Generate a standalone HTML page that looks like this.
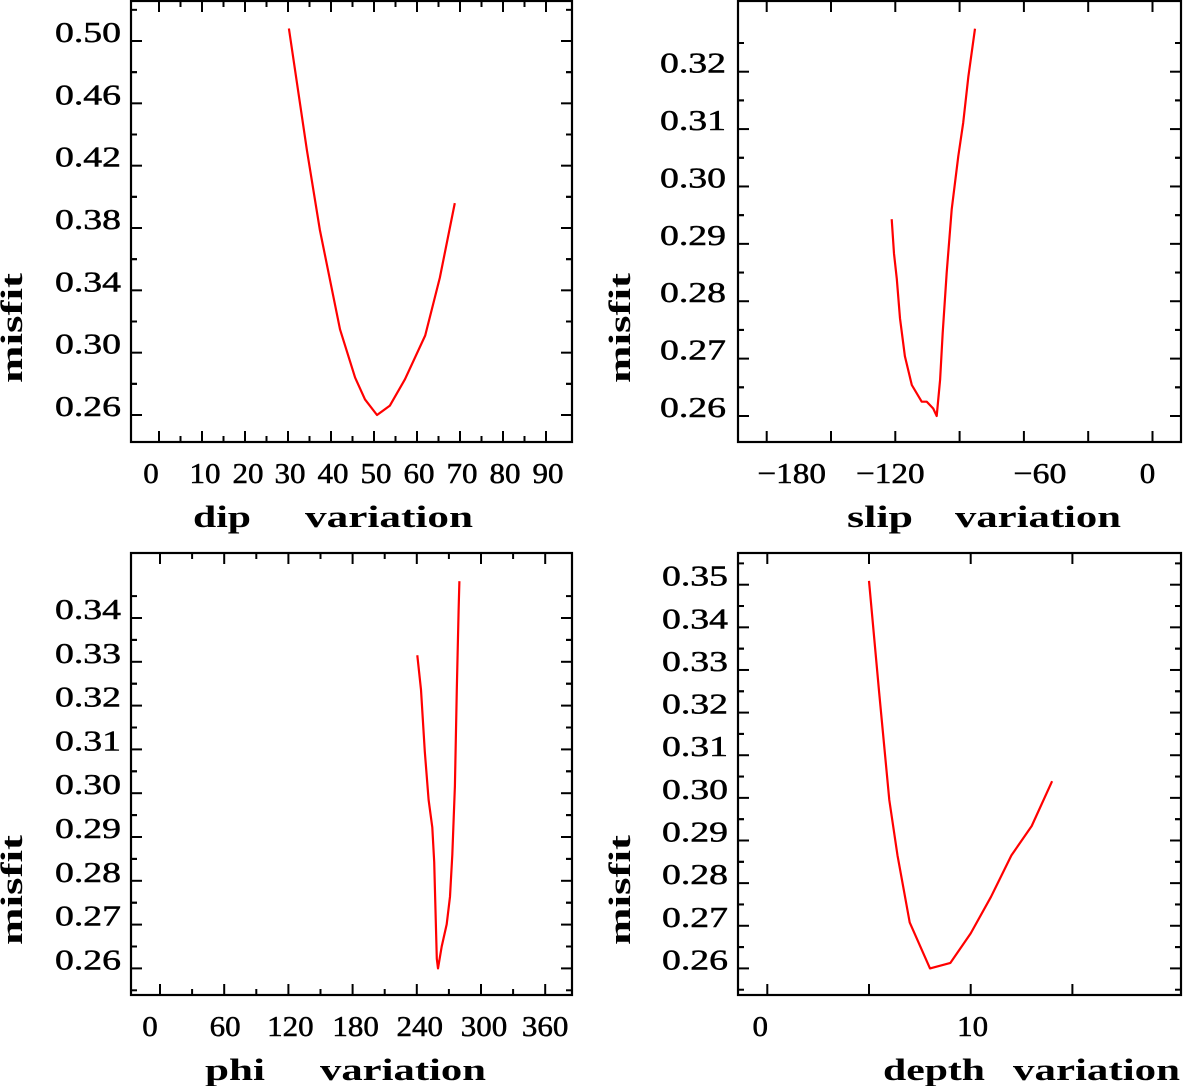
<!DOCTYPE html>
<html><head><meta charset="utf-8">
<style>
html,body{margin:0;padding:0;background:#fff;}
svg{display:block;}
text{font-family:"Liberation Serif",serif;fill:#000;}
.tk{font-size:29px;stroke:#000;stroke-width:0.5px;}
.ttl{font-size:31px;font-weight:bold;}
</style></head>
<body>
<svg id="chart" width="1183" height="1086" viewBox="0 0 1183 1086" xmlns="http://www.w3.org/2000/svg"></svg>
<script>
// ---- data ----
const dipX = [30.2, 34.4, 37.4, 42.1, 45.6, 47.9, 50.7, 53.7, 57.2, 61.9, 65.3, 68.8];
const dipY = [0.508, 0.430, 0.379, 0.315, 0.284, 0.270, 0.260, 0.266, 0.283, 0.311, 0.348, 0.396];
const dipXTicks = [0,10,20,30,40,50,60,70,80,90];
const dipYTicks = [0.26,0.30,0.34,0.38,0.42,0.46,0.50];
const dipYLabels = ["0.26","0.30","0.34","0.38","0.42","0.46","0.50"];

const slipX = [-121.7,-120.6,-119.3,-117.8,-115.5,-112.3,-107.7,-105.3,-102.3,-100.7,-99.1,-97.9,-96.0,-93.7,-90.6,-88.3,-85.9,-82.8];
const slipY = [0.2943,0.2883,0.2839,0.2770,0.2704,0.2654,0.2625,0.2625,0.2613,0.2600,0.2663,0.2745,0.2850,0.2960,0.3053,0.3111,0.3192,0.3275];
const slipXTicks = [-180,-150,-120,-90,-60,-30,0];
const slipXLabels = [-180,-120,-60,0];
const slipYTicks = [0.26,0.27,0.28,0.29,0.30,0.31,0.32];
const slipYLabels = ["0.26","0.27","0.28","0.29","0.30","0.31","0.32"];

const phiX = [240.5,243.9,247.5,251.0,254.5,256.3,257.3,258.7,259.8,263.3,267.9,271.0,273.2,275.6,277.4,279.1,279.8];
const phiY = [0.3315,0.3236,0.3095,0.2985,0.2922,0.2843,0.2749,0.2622,0.2600,0.2650,0.2701,0.2764,0.2859,0.3016,0.3236,0.3417,0.3484];
const phiXTicks = [0,60,120,180,240,300,360];
const phiYTicks = [0.26,0.27,0.28,0.29,0.30,0.31,0.32,0.33,0.34];
const phiYLabels = ["0.26","0.27","0.28","0.29","0.30","0.31","0.32","0.33","0.34"];

const depthX = [5,5.5,6,6.4,7,8,9,10,11,12,13,14];
const depthY = [0.3509,0.3246,0.2995,0.2865,0.2708,0.2600,0.2613,0.2682,0.2768,0.2865,0.2934,0.3039];
const depthXTicks = [0,5,10,15];
const depthXLabels = [0,10];
const depthYTicks = [0.26,0.27,0.28,0.29,0.30,0.31,0.32,0.33,0.34,0.35];
const depthYLabels = ["0.26","0.27","0.28","0.29","0.30","0.31","0.32","0.33","0.34","0.35"];

const NS = "http://www.w3.org/2000/svg";
const svg = document.getElementById('chart');
function mk(tag, attrs, parent){
  const e = document.createElementNS(NS, tag);
  for (const k in attrs) e.setAttribute(k, attrs[k]);
  (parent||svg).appendChild(e);
  return e;
}
function linScale(d0, d1, r0, r1){ return v => r0 + (v - d0) * (r1 - r0) / (d1 - d0); }
function labelWidth(s){
  let w = 0;
  for (const c of s) w += (c === '.') ? 8 : (c === '\u2212' ? 22 : 15.5);
  return w;
}

function panel(cfg){
  const g = mk('g', {});
  
  
  const {L,R,T,B} = cfg;
  const box = mk('rect', {x:L, y:T, width:R-L, height:B-T, fill:'none', stroke:'#000', 'stroke-width':2.2}, g);
  
  
  const xs = cfg.xs, ys = cfg.ys;
  cfg.yTicks.forEach(v => {
    const y = ys(v);
    const t1 = mk('line', {x1:L, x2:L+11, y1:y, y2:y, stroke:'#000','stroke-width':2}, g);
    
    
    const t2 = mk('line', {x1:R, x2:R-11, y1:y, y2:y, stroke:'#000','stroke-width':2}, g);
    
    
    [v - cfg.yMinor, v + cfg.yMinor].forEach(m => {
      const ym = ys(m);
      if (ym <= T+2 || ym >= B-2) return;
      const a = mk('line', {x1:L, x2:L+6, y1:ym, y2:ym, stroke:'#000','stroke-width':2}, g);
      
      
      const b = mk('line', {x1:R, x2:R-6, y1:ym, y2:ym, stroke:'#000','stroke-width':2}, g);
      
      
    });
  });
  cfg.yLabels.forEach((s, i) => {
    const t = mk('text', {x:cfg.yLabelX, y:ys(cfg.yTicks[i]) + 1, 'text-anchor':'end', class:'tk',
      textLength:66, lengthAdjust:'spacingAndGlyphs'}, g);
    t.textContent = s;
    
    
  });
  cfg.xTicks.forEach((v, i) => {
    const x = xs(v);
    const len = (cfg.xAlt && i % 2 === 1) ? 6 : 11;
    const a = mk('line', {x1:x, x2:x, y1:B, y2:B-len, stroke:'#000','stroke-width':2}, g);
    
    
    const b = mk('line', {x1:x, x2:x, y1:T, y2:T+len, stroke:'#000','stroke-width':2}, g);
    
    
  });
  cfg.xLabels.forEach((v, i) => {
    const dx = Array.isArray(cfg.xLabelDx) ? cfg.xLabelDx[i] : cfg.xLabelDx;
    const x = xs(v) + dx;
    const s = v < 0 ? '\u2212' + Math.abs(v) : String(v);
    const t = mk('text', {x:x, y:B + 41, 'text-anchor':'middle', class:'tk',
      textLength:labelWidth(s), lengthAdjust:'spacingAndGlyphs'}, g);
    t.textContent = s;
    
    
  });
  const t1 = mk('text', {x:cfg.t1x, y:B+85, class:'ttl', textLength:cfg.t1w, lengthAdjust:'spacingAndGlyphs'}, g);
  t1.textContent = cfg.t1;
  
  
  const t2 = mk('text', {x:cfg.t2x, y:B+85, class:'ttl', textLength:cfg.t2w, lengthAdjust:'spacingAndGlyphs'}, g);
  t2.textContent = 'variation';
  
  
  const my = mk('text', {x:0, y:0, class:'ttl', 'text-anchor':'middle', textLength:110, lengthAdjust:'spacingAndGlyphs',
    transform:'translate(' + cfg.mx + ',' + cfg.my + ') rotate(-90)'}, g);
  my.textContent = 'misfit';
  
  
  const pts = cfg.dx.map((v, i) => xs(v).toFixed(1) + ',' + ys(cfg.dy[i]).toFixed(1)).join(' ');
  const pl = mk('polyline', {points:pts, fill:'none', stroke:'#ff0000', 'stroke-width':2.2, 'stroke-linejoin':'round'}, g);
  
  
}

panel({name:'dip', L:131, R:572, T:1, B:442,
  xs: linScale(0, 10, 159, 202), ys: linScale(0.26, 0.50, 415, 41),
  xTicks:[0,5,10,15,20,25,30,35,40,45,50,55,60,65,70,75,80,85,90], xAlt:true,
  xLabels: dipXTicks, xLabelDx:[-8,3,3,2,2,2,2,2,2,2],
  yTicks: dipYTicks, yMinor:0.02, yLabels: dipYLabels, yLabelX:121,
  dx: dipX, dy: dipY, t1:'dip', t1x:193, t1w:58, t2x:305, t2w:168, mx:22, my:328});

panel({name:'slip', L:738, R:1181, T:1, B:442,
  xs: linScale(-180, -150, 766.7, 831), ys: linScale(0.26, 0.32, 416, 71.7),
  xTicks: slipXTicks, xAlt:false,
  xLabels: slipXLabels, xLabelDx:[25,-5,16,-5],
  yTicks: slipYTicks, yMinor:0.005, yLabels: slipYLabels, yLabelX:726,
  dx: slipX, dy: slipY, t1:'slip', t1x:847, t1w:66, t2x:955, t2w:166, mx:630, my:328});

panel({name:'phi', L:131, R:572, T:553, B:995,
  xs: linScale(0, 60, 160, 224.2), ys: linScale(0.26, 0.34, 968.4, 618),
  xTicks:[0,30,60,90,120,150,180,210,240,270,300,330,360], xAlt:true,
  xLabels: phiXTicks, xLabelDx:[-10,1,2,3,3,3,0],
  yTicks: phiYTicks, yMinor:0.005, yLabels: phiYLabels, yLabelX:121,
  dx: phiX, dy: phiY, t1:'phi', t1x:205, t1w:60, t2x:320, t2w:166, mx:22, my:890});

panel({name:'depth', L:738, R:1181, T:553, B:995,
  xs: linScale(0, 5, 767.3, 869), ys: linScale(0.26, 0.35, 968.4, 584.7),
  xTicks: depthXTicks, xAlt:false,
  xLabels: depthXLabels, xLabelDx:[-7,2],
  yTicks: depthYTicks, yMinor:0.005, yLabels: depthYLabels, yLabelX:728,
  dx: depthX, dy: depthY, t1:'depth', t1x:883, t1w:102, t2x:1013, t2w:167, mx:630, my:890});
</script>
</body></html>
